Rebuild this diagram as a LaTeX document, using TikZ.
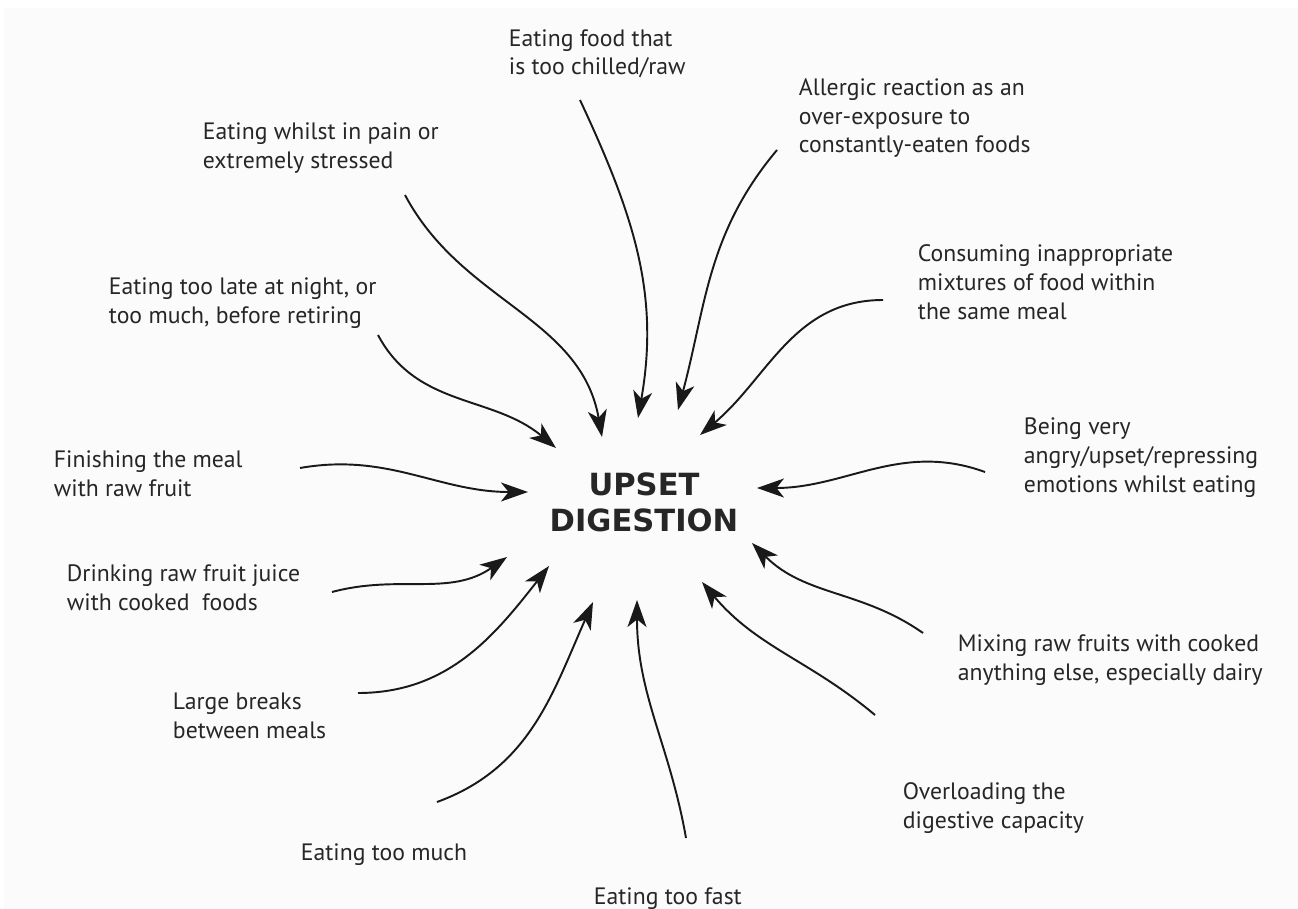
\documentclass[tikz,border=0pt]{standalone}
\usepackage{fontspec}
\setmainfont{PT Sans}
\newfontfamily\headfont{DejaVu Sans}
\usepackage{tikz}
\usetikzlibrary{arrows.meta,positioning}

\begin{document}
\begin{tikzpicture}[>={Stealth[length=5.4mm,width=3.8mm,inset=1.5mm]},line width=1.1pt,x=0.02cm,y=0.02cm]
\tikzstyle{cause}=[font=\fontsize{13.5}{16.5}\selectfont,align=left,anchor=base west,inner sep=0pt,text=black!85]
\useasboundingbox (0,0) rectangle (1298,-909);
\fill[black!1.5] (4,-8) rectangle (1298,-909);

\node[font=\headfont\bfseries\fontsize{17.4}{20.4}\selectfont,align=center,text=black!85] (D) at (644,-502) {UPSET\\DIGESTION};

% causes (anchored at the last line)
\node[cause] (A) at (508,-75)  {Eating food that\\is too chilled/raw};
\node[cause] (B) at (798,-153) {Allergic reaction as an\\over-exposure to\\constantly-eaten foods};
\node[cause] (C) at (202,-168) {Eating whilst in pain or\\extremely stressed};
\node[cause] (E) at (917,-319) {Consuming inappropriate\\mixtures of food within\\the same meal};
\node[cause] (F) at (108,-323) {Eating too late at night, or\\too much, before retiring};
\node[cause] (G) at (1023,-492) {Being very\\angry/upset/repressing\\emotions whilst eating};
\node[cause] (H) at (53,-496)  {Finishing the meal\\with raw fruit};
\node[cause] (I) at (66,-610)  {Drinking raw fruit juice\\with cooked\ \ foods};
\node[cause] (J) at (957,-680) {Mixing raw fruits with cooked\\anything else, especially dairy};
\node[cause] (K) at (172,-738) {Large breaks\\between meals};
\node[cause] (L) at (902,-828) {Overloading the\\digestive capacity};
\node[cause] (M) at (300,-860) {Eating too much};
\node[cause] (N) at (593,-904) {Eating too fast};

% arrow ends
\coordinate (sA) at (580,-100);  \coordinate (tA) at (638,-418);
\coordinate (sB) at (777,-150);  \coordinate (tB) at (678,-410);
\coordinate (sC) at (405,-195);  \coordinate (tC) at (602,-437);
\coordinate (sE) at (883,-300);  \coordinate (tE) at (700,-435);
\coordinate (sF) at (378,-335);  \coordinate (tF) at (556,-448);
\coordinate (sG) at (985,-472);  \coordinate (tG) at (757,-488);
\coordinate (sH) at (300,-468);  \coordinate (tH) at (528,-492);
\coordinate (sI) at (332,-592);  \coordinate (tI) at (507,-557);
\coordinate (sJ) at (923,-633);  \coordinate (tJ) at (752,-543);
\coordinate (sK) at (358,-693);  \coordinate (tK) at (549,-566);
\coordinate (sL) at (875,-715);  \coordinate (tL) at (702,-582);
\coordinate (sM) at (437,-802);  \coordinate (tM) at (593,-602);
\coordinate (sN) at (686,-838);  \coordinate (tN) at (637,-600);

\path[->,black!90]
  (sA) edge[out=-65,in=80] (tA)
  (sB) edge[out=-130,in=75] (tB)
  (sC) edge[out=-62,in=100] (tC)
  (sE) edge[out=180,in=40] (tE)
  (sF) edge[out=-62,in=140] (tF)
  (sG) edge[out=160,in=0] (tG)
  (sH) edge[out=10,in=180] (tH)
  (sI) edge[out=15,in=-145] (tI)
  (sJ) edge[out=145,in=-45] (tJ)
  (sK) edge[out=0,in=-128] (tK)
  (sL) edge[out=140,in=-50] (tL)
  (sM) edge[out=20,in=-114] (tM)
  (sN) edge[out=100,in=-90] (tN);
\end{tikzpicture}
\end{document}
